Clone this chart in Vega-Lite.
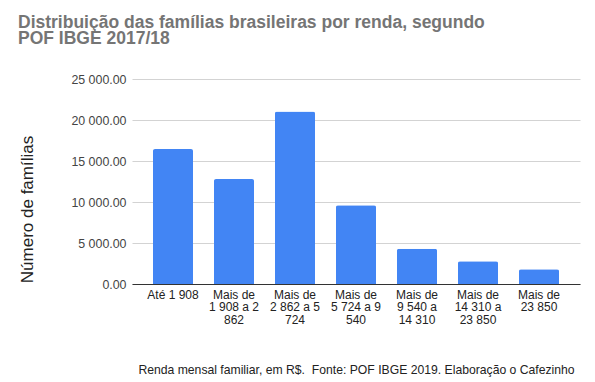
{
  "$schema": "https://vega.github.io/schema/vega-lite/v6.json",
  "width": 448,
  "height": 205,
  "autosize": {"type": "none"},
  "padding": {"left": 132, "top": 79, "right": 15, "bottom": 98},
  "background": "white",
  "config": {
    "view": {"stroke": null},
    "font": "Liberation Sans"
  },
  "title": {
    "text": ["Distribuição das famílias brasileiras por renda, segundo", "POF IBGE 2017/18"],
    "anchor": "start",
    "frame": "group",
    "fontSize": 17.5,
    "fontWeight": "bold",
    "color": "#757575",
    "font": "Liberation Sans",
    "lineHeight": 16,
    "dx": -114,
    "dy": -6,
    "baseline": "top",
    "offset": 20
  },
  "data": {
    "values": [
      {"faixa": "Até 1 908", "familias": 16450},
      {"faixa": "Mais de|1 908 a 2|862", "familias": 12800},
      {"faixa": "Mais de|2 862 a 5|724", "familias": 21050},
      {"faixa": "Mais de|5 724 a 9|540", "familias": 9600},
      {"faixa": "Mais de|9 540 a|14 310", "familias": 4300},
      {"faixa": "Mais de|14 310 a|23 850", "familias": 2770},
      {"faixa": "Mais de|23 850", "familias": 1790}
    ]
  },
  "mark": {"type": "bar", "color": "#4285F4", "cornerRadiusTopLeft": 2, "cornerRadiusTopRight": 2},
  "encoding": {
    "x": {
      "field": "faixa",
      "type": "nominal",
      "sort": null,
      "scale": {"paddingInner": 0.344, "paddingOuter": 0.344},
      "axis": {
        "title": "Renda mensal familiar, em R$.\u00a0 Fonte: POF IBGE 2019. Elaboração o Cafezinho",
        "titleFontSize": 12.2,
        "titleFontWeight": "normal",
        "titleColor": "#222222",
        "titleX": 224,
        "titleY": 89,
        "titleAlign": "center",
        "titleBaseline": "alphabetic",
        "labelExpr": "split(datum.label, '|')",
        "labelAngle": 0,
        "labelFontSize": 12,
        "labelLineHeight": 12.5,
        "labelColor": "#222222",
        "labelPadding": 5,
        "labelLimit": 0,
        "ticks": false,
        "domainColor": "#333333",
        "domainWidth": 1
      }
    },
    "y": {
      "field": "familias",
      "type": "quantitative",
      "scale": {"domain": [0, 25000], "nice": false},
      "axis": {
        "values": [0, 5000, 10000, 15000, 20000, 25000],
        "labelExpr": "replace(format(datum.value, ',.2f'), ',', ' ')",
        "labelFontSize": 12.4,
        "labelColor": "#444444",
        "labelPadding": 6,
        "ticks": false,
        "domain": false,
        "gridColor": "#d3d3d3",
        "title": "Número de famílias",
        "titleFontSize": 17,
        "titleFontWeight": "normal",
        "titleColor": "#222222",
        "titleAngle": -90,
        "titleX": -105,
        "titleY": 130,
        "titleAlign": "center",
        "titleBaseline": "middle"
      }
    }
  }
}
